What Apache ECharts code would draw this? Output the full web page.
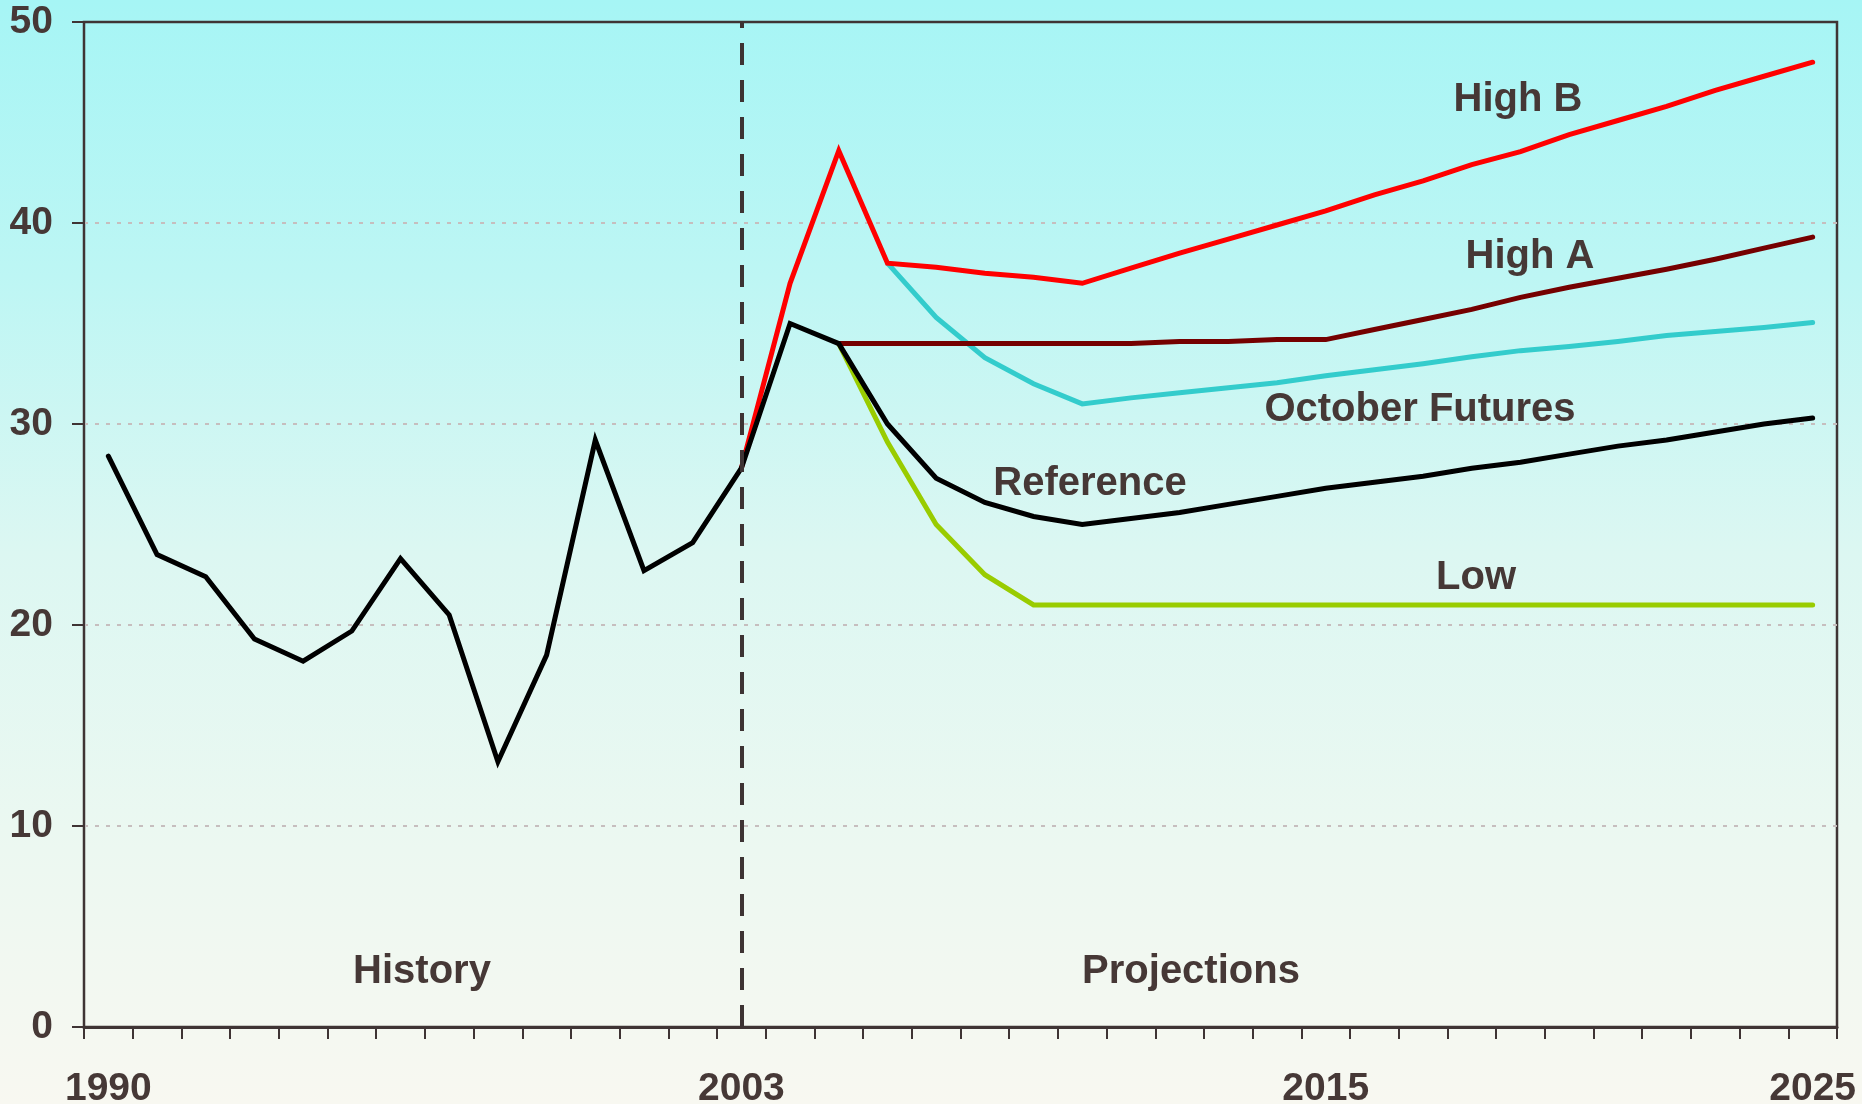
<!DOCTYPE html>
<html>
<head>
<meta charset="utf-8">
<script src="https://cdn.jsdelivr.net/npm/echarts@6/dist/echarts.min.js"></script>
<style>
  html, body { margin: 0; padding: 0; }
  #chart { width: 1862px; height: 1104px; }
</style>
</head>
<body>
<div id="chart"></div>
<script>
// years on the x axis
var years = ['1990', '1991', '1992', '1993', '1994', '1995', '1996', '1997', '1998', '1999',
  '2000', '2001', '2002', '2003', '2004', '2005', '2006', '2007', '2008', '2009',
  '2010', '2011', '2012', '2013', '2014', '2015', '2016', '2017', '2018', '2019',
  '2020', '2021', '2022', '2023', '2024', '2025']
// only these years get a label
var xLabelYears = ['1990', '2003', '2015', '2025']
var yTicks = [0, 10, 20, 30, 40, 50]
var splitYear = '2003'

// history 1990-2003
var historyValues = [28.4, 23.5, 22.4, 19.3, 18.2, 19.7, 23.3, 20.5, 13.2, 18.5, 29.2, 22.7, 24.1, 27.8]
// reference 2003-2025
var referenceValues = [27.8, 35.0, 34.0, 30.0, 27.3, 26.1, 25.4, 25.0, 25.3, 25.6, 26.0, 26.4,
  26.8, 27.1, 27.4, 27.8, 28.1, 28.5, 28.9, 29.2, 29.6, 30.0, 30.3]
// high B 2003-2025
var highBValues = [27.8, 37.0, 43.6, 38.0, 37.8, 37.5, 37.3, 37.0, 37.75, 38.5, 39.2, 39.9,
  40.6, 41.4, 42.1, 42.9, 43.55, 44.4, 45.1, 45.8, 46.6, 47.3, 48.0]
// high A 2005-2025
var highAValues = [34.0, 34.0, 34.0, 34.0, 34.0, 34.0, 34.0, 34.1, 34.1, 34.2, 34.2,
  34.7, 35.2, 35.7, 36.3, 36.8, 37.25, 37.7, 38.2, 38.75, 39.3]
// october futures 2006-2025
var octoberValues = [38.0, 35.3, 33.3, 32.0, 31.0, 31.3, 31.55, 31.8, 32.05, 32.4,
  32.7, 33.0, 33.35, 33.65, 33.85, 34.1, 34.4, 34.6, 34.8, 35.05]
// low 2005-2025
var lowValues = [34.0, 29.1, 25.0, 22.5, 21.0, 21.0, 21.0, 21.0, 21.0, 21.0, 21.0,
  21.0, 21.0, 21.0, 21.0, 21.0, 21.0, 21.0, 21.0, 21.0, 21.0]

var textColor = '#463836'
var axisColor = '#3f3434'
var fontFamily = '"Liberation Sans", Arial, sans-serif'

// pad a series with nulls so it starts at its first year
function pad(startYear, values) {
  var out = []
  var start = years.indexOf(startYear)
  for (var i = 0; i < years.length; i++) {
    var j = i - start
    out.push(j >= 0 && j < values.length ? values[j] : null)
  }
  return out
}

function lineSeries(name, color, data) {
  return {
    name: name,
    type: 'line',
    data: data,
    showSymbol: false,
    symbol: 'none',
    connectNulls: false,
    lineStyle: { color: color, width: 5, cap: 'round', join: 'miter' },
    z: 3
  }
}

function note(text, x, y) {
  return {
    type: 'text',
    x: x,
    y: y,
    z: 10,
    style: {
      text: text,
      fill: textColor,
      font: 'bold 40px ' + fontFamily,
      align: 'center',
      verticalAlign: 'middle'
    }
  }
}

var chart = echarts.init(document.getElementById('chart'))

var historySeries = lineSeries('History', '#000000', pad('1990', historyValues))
historySeries.markLine = {
  silent: true,
  symbol: 'none',
  animation: false,
  label: { show: false },
  lineStyle: { color: '#3d3333', width: 4, type: [22, 15] },
  data: [{ xAxis: splitYear }]
}

var option = {
  animation: false,
  backgroundColor: {
    type: 'linear', x: 0, y: 0, x2: 0, y2: 1,
    colorStops: [
      { offset: 0, color: '#a6f5f5' },
      { offset: 0.25, color: '#bdf6f4' },
      { offset: 0.5, color: '#dcf7f2' },
      { offset: 0.75, color: '#ebf8f1' },
      { offset: 1, color: '#f8f8f1' }
    ]
  },
  grid: {
    left: 84,
    right: 25,
    top: 22,
    bottom: 77,
    outerBoundsMode: 'none',
    containLabel: false,
    show: true,
    borderColor: axisColor,
    borderWidth: 2.5,
    backgroundColor: 'transparent'
  },
  xAxis: {
    type: 'category',
    data: years,
    boundaryGap: true,
    axisLine: { lineStyle: { color: axisColor, width: 3 } },
    axisTick: { show: true, interval: 0, alignWithLabel: false, length: 12, lineStyle: { color: axisColor, width: 2 } },
    axisLabel: {
      interval: function (index, value) { return xLabelYears.indexOf(value) >= 0 },
      margin: 43,
      color: textColor,
      fontSize: 39,
      fontWeight: 'bold',
      fontFamily: fontFamily
    },
    splitLine: { show: false }
  },
  yAxis: {
    type: 'value',
    min: yTicks[0],
    max: yTicks[yTicks.length - 1],
    interval: 10,
    axisLine: { show: true, lineStyle: { color: axisColor, width: 2 } },
    axisTick: { show: true, length: 12, lineStyle: { color: axisColor, width: 2 } },
    axisLabel: {
      margin: 31,
      color: textColor,
      fontSize: 39,
      fontWeight: 'bold',
      fontFamily: fontFamily
    },
    splitLine: {
      show: true,
      showMaxLine: false,
      lineStyle: { color: '#c6bebe', width: 2, type: [4, 7] }
    }
  },
  series: [
    lineSeries('Low', '#99cc00', pad('2005', lowValues)),
    lineSeries('October Futures', '#33cccc', pad('2006', octoberValues)),
    lineSeries('High A', '#750000', pad('2005', highAValues)),
    lineSeries('High B', '#ff0000', pad('2003', highBValues)),
    historySeries,
    lineSeries('Reference', '#000000', pad('2003', referenceValues))
  ],
  graphic: [
    note('History', 422, 972),
    note('Projections', 1191, 972),
    note('High B', 1518, 100),
    note('High A', 1530, 257),
    note('October Futures', 1420, 410),
    note('Reference', 1090, 484),
    note('Low', 1476, 578)
  ]
}

chart.setOption(option)
</script>
</body>
</html>
